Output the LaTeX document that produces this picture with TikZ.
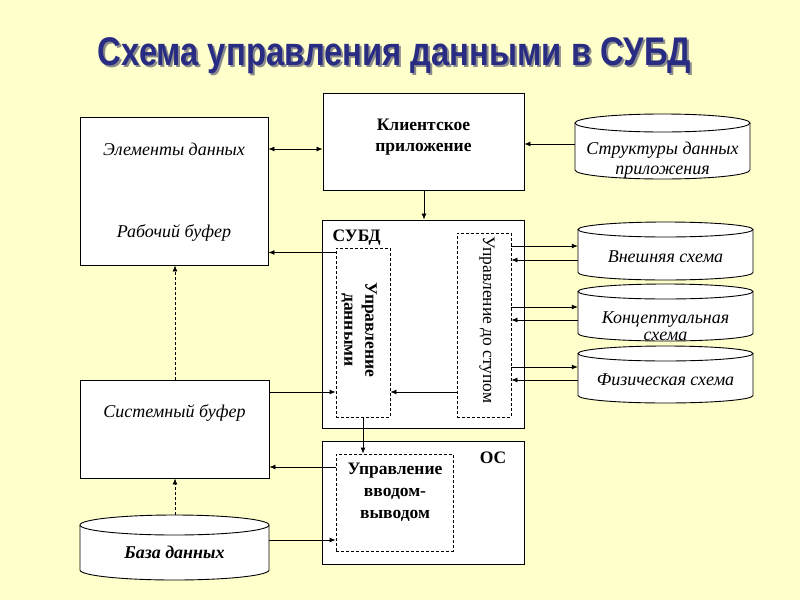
\documentclass[tikz,border=0pt]{standalone}
\usepackage{fontspec}
\setmainfont{Liberation Serif}
\newfontfamily\titlefont{Liberation Sans}
\usetikzlibrary{arrows.meta}
\definecolor{bg}{RGB}{255,255,204}
\definecolor{titleblue}{RGB}{40,44,130}
\newcommand\dbcyl[7]{% name, x1, x2, ytopcenter, ybotcenter, ry
  \path[draw,fill=white,line width=0.9pt] (#2,#4) -- (#2,#5) arc[start angle=180,end angle=0,x radius={(#3-#2)/2},y radius=#6] -- (#3,#4);
  \draw[fill=white,line width=0.9pt] ({(#2+#3)/2},#4) ellipse[x radius={(#3-#2)/2},y radius=#6];
  \node[#7] (#1) at ({(#2+#3)/2},{(#4+#5)/2}) [minimum width={(#3-#2)*1pt},minimum height={(#5-#4+2*#6)*1pt},inner sep=0pt] {};
}
\begin{document}
\begin{tikzpicture}[x=1pt,y=-1pt,
  box/.style={draw,fill=white,line width=0.9pt,inner sep=0pt},
  dbox/.style={draw,fill=white,line width=0.8pt,inner sep=0pt,dash pattern=on 3pt off 2pt},
  arr/.style={line width=0.8pt,-{Latex[length=6pt,width=5pt]}},
  darr/.style={line width=0.8pt,{Latex[length=6pt,width=5pt]}-{Latex[length=6pt,width=5pt]}},
  dsh/.style={line width=0.8pt,dash pattern=on 3pt off 2pt,-{Latex[length=6pt,width=5pt]}},
  it/.style={font=\fontsize{18}{20}\selectfont\itshape},
  bf/.style={font=\fontsize{17.5}{21}\selectfont\bfseries},
  rm/.style={font=\fontsize{17.5}{21}\selectfont},
]
\fill[bg] (0,0) rectangle (800,600);
\useasboundingbox (0,0) rectangle (800,600);

% title with shadow
\node[text=titleblue] (title) at (394.5,56.5) {\titlefont\bfseries\fontsize{40}{42}\selectfont\scalebox{0.82}[1]{\makebox[0pt][l]{\kern2.4pt\raisebox{-2.4pt}{\color{black!45}Схема управления данными в СУБД}}Схема управления данными в СУБД}};

% left boxes
\node[box,minimum width=188pt,minimum height=148pt] (work) at (174,191) {};
\node[it] (elem) at (174,149) {Элементы данных};
\node[it] (wbuf) at (174,233) {Рабочий буфер};
\node[box,minimum width=189pt,minimum height=98pt] (sysbuf) at (174.5,429) {};
\node[it] (systxt) at (174.5,413) {Системный буфер};

% client
\node[box,minimum width=201pt,minimum height=97pt] (client) at (423.5,141.5) {};
\node[bf,align=center] (clienttxt) at (423.5,137) {Клиентское\\приложение};

% DBMS
\node[box,minimum width=202pt,minimum height=208pt] (subd) at (423,324) {};
\node[bf,anchor=west] (subdtxt) at (329,238) {СУБД};
\node[dbox,minimum width=54pt,minimum height=169pt] (ud) at (363,332.5) {};
\node[bf,rotate=-90,align=center] (udtxt) at (359,330) {Управление\\данными};
\node[dbox,minimum width=54pt,minimum height=184pt] (uacc) at (484,325) {};
\node[rm,rotate=-90] (uacctxt) at (487,320) {Управление до ступом};

% OS
\node[box,minimum width=202pt,minimum height=123pt] (os) at (423,502.5) {};
\node[bf] (ostxt) at (493,458) {ОС};
\node[dbox,minimum width=117pt,minimum height=97pt] (io) at (394.5,502.5) {};
\node[align=center,font=\fontsize{17.5}{22}\selectfont\bfseries] (iotxt) at (395,492) {Управление\\вводом-\\выводом};

% cylinders
\dbcyl{struct}{575}{750}{123}{170}{9}{}
\node[align=center,font=\fontsize{18}{20.5}\selectfont\itshape] (structtxt) at (662.5,160) {Структуры данных\\приложения};
\dbcyl{ext}{578}{753}{229.5}{272.5}{7.5}{}
\node[it] (exttxt) at (665.5,257) {Внешняя схема};
\dbcyl{conc}{578}{753}{291.5}{333.5}{7.5}{}
\node[align=center,font=\fontsize{18}{17}\selectfont\itshape] (conctxt) at (665.5,326) {Концептуальная\\схема};
\dbcyl{phys}{578}{753}{353.5}{395.5}{7.5}{}
\node[it] (phystxt) at (665.5,380) {Физическая схема};
\dbcyl{db}{80}{269}{525}{570}{10}{}
\node[font=\fontsize{18}{20}\selectfont\bfseries\itshape] (dbtxt) at (174.5,552) {База данных};

% connectors
\draw[darr] (work.east |- 0,149) -- (client.west |- 0,149);
\draw[arr] (struct.west |- 0,144) -- (client.east |- 0,144);
\draw[arr] (client.south -| 424,0) -- (subd.north -| 424,0);
\draw[arr] (ud.west |- 0,252.5) -- (work.east |- 0,252.5);
\draw[arr] (sysbuf.east |- 0,392) -- (ud.west |- 0,392);
\draw[arr] (uacc.west |- 0,392) -- (ud.east |- 0,392);
\draw[arr] (uacc.east |- 0,246) -- (ext.west |- 0,246);
\draw[arr] (ext.west |- 0,260) -- (uacc.east |- 0,260);
\draw[arr] (uacc.east |- 0,307) -- (conc.west |- 0,307);
\draw[arr] (conc.west |- 0,320) -- (uacc.east |- 0,320);
\draw[arr] (uacc.east |- 0,367) -- (phys.west |- 0,367);
\draw[arr] (phys.west |- 0,380) -- (uacc.east |- 0,380);
\draw[arr] (ud.south) -- (io.north -| ud.south);
\draw[arr] (io.west |- 0,467) -- (sysbuf.east |- 0,467);
\draw[arr] (db.east |- 0,540) -- (io.west |- 0,540);
\draw[dsh] (db.north -| 175,0) -- (sysbuf.south -| 175,0);
\draw[dsh] (sysbuf.north -| 175,0) -- (work.south -| 175,0);
\end{tikzpicture}
\end{document}
